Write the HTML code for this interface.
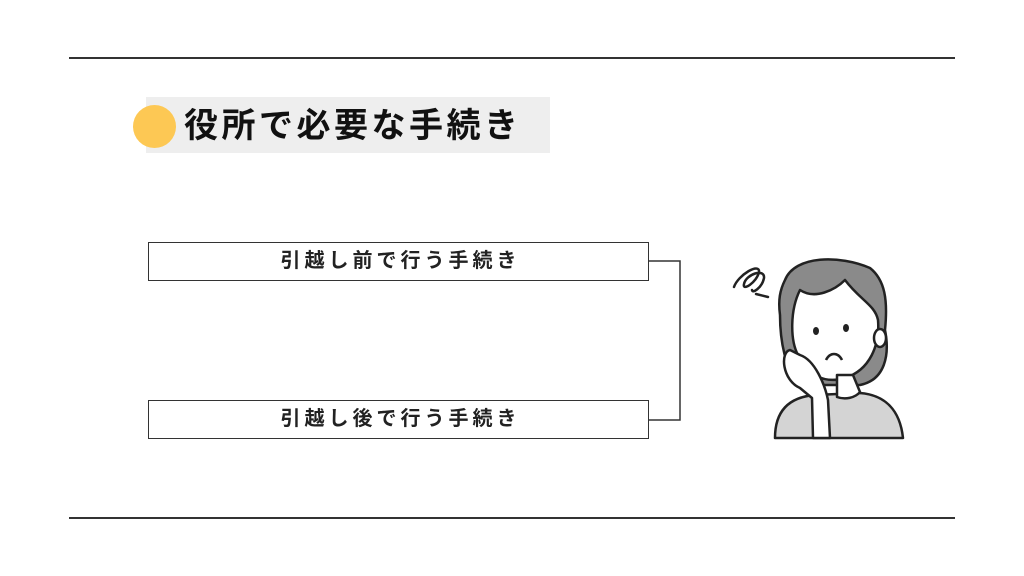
<!DOCTYPE html>
<html><head><meta charset="utf-8"><style>
body{margin:0;width:1024px;height:576px;background:#fff;position:relative;overflow:hidden;font-family:"Liberation Sans","Noto Sans CJK JP",sans-serif}
.hl{position:absolute;left:69px;width:886px;height:2px;background:#333}
.box{position:absolute;left:148px;width:501px;height:39px;border:1px solid #333;box-sizing:border-box;text-align:center;line-height:37px;font-size:20px;font-weight:bold;letter-spacing:4px;padding-left:4px;color:#222}
</style></head><body>
<div class="hl" style="top:57px"></div>
<div class="hl" style="top:517px"></div>
<div style="position:absolute;left:146px;top:97px;width:404px;height:56px;background:#eee"></div>
<div style="position:absolute;left:133px;top:105px;width:43px;height:43px;border-radius:50%;background:#fdc854"></div>
<div style="position:absolute;left:184px;top:104px;font-size:34px;font-weight:bold;letter-spacing:3.5px;color:#111;line-height:44px">役所で必要な手続き</div>
<div class="box" style="top:242px">引越し前で行う手続き</div>
<div class="box" style="top:400px">引越し後で行う手続き</div>
<svg style="position:absolute;left:0;top:0" width="1024" height="576">
<polyline points="649,261 680,261 680,420 649,420" fill="none" stroke="#333" stroke-width="1.5"/>
<g stroke="#222" stroke-width="2.5" fill="none" stroke-linecap="round">
<path d="M734,287 C738,275 760,262 759,272 C757,282 742,292 744,284 C746,274 765,268 764,278 C762,288 752,294 752,290 M756,294 L768,297"/>
</g>
<g stroke="#222" stroke-width="2.5" stroke-linejoin="round">
<path d="M775,438 C775,410 790,397 815,395 L860,393 C885,395 900,410 903,438 Z" fill="#d4d4d4"/>
<path d="M785,280 C795,255 840,255 870,268 C885,280 888,300 885,330 C890,355 885,380 860,385 L800,385 C785,370 780,340 780,315 C778,300 780,290 785,280 Z" fill="#8a8a8a"/>
<path d="M800,290 C815,300 835,290 845,280 C860,300 875,305 878,320 C880,345 870,370 845,378 C825,384 805,375 798,355 C790,340 790,310 800,290 Z" fill="#fff"/>
<path d="M837,375 L837,397 C845,400 855,398 860,392 L853,375 Z" fill="#fff"/>
<path d="M790,350 C780,352 782,380 800,388 L812,398 L813,438 L830,438 L828,400 C825,385 815,360 800,355 Z" fill="#fff"/>
<ellipse cx="880" cy="338" rx="6" ry="9" fill="#fff"/>
</g>
<g fill="#222"><ellipse cx="816" cy="331" rx="3" ry="4"/><ellipse cx="846" cy="328" rx="3" ry="4"/></g>
<path d="M826,360 C830,352 838,352 842,360" stroke="#222" stroke-width="2.5" fill="none"/>
</svg>
</body></html>
